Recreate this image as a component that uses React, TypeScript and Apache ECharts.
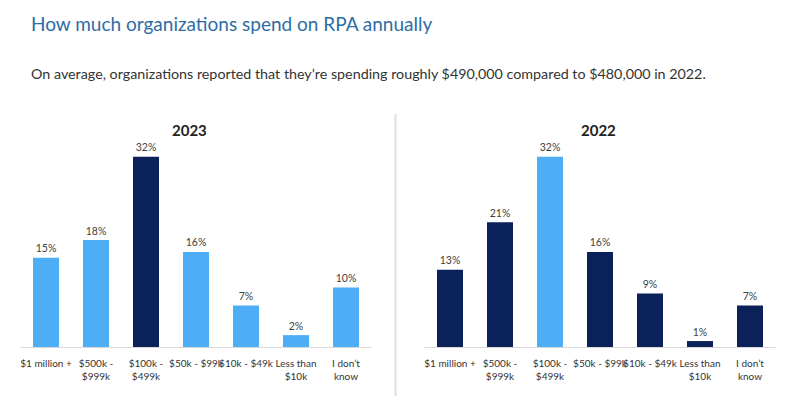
import React, { useEffect, useRef } from "react";
import * as echarts from "echarts";

const categories = [
  "$1 million +",
  "$500k -\n$999k",
  "$100k -\n$499k",
  "$50k - $99k",
  "$10k - $49k",
  "Less than\n$10k",
  "I don\u2019t\nknow",
];
const values2023 = [15, 18, 32, 16, 7, 2, 10];
const values2022 = [13, 21, 32, 16, 9, 1, 7];
const highlightIndex = 2;
const panelTitles = ["2023", "2022"];

const LIGHT = "#4daef6";
const NAVY = "#0a2159";
const FONT = "Lato, 'Noto Sans', sans-serif";

export default function App() {
  const ref = useRef<HTMLDivElement>(null);
  useEffect(() => {
    if (!ref.current) return;
    const chart = echarts.init(ref.current, null, { renderer: "svg" });
    const mkData = (vals: number[], base: string, hi: string) =>
      vals.map((v, i) => ({ value: v, itemStyle: { color: i === highlightIndex ? hi : base } }));
    const xAxisCommon = {
      type: "category" as const,
      data: categories,
      axisTick: { show: false },
      axisLine: { lineStyle: { color: "#d9d9d9", width: 1 } },
      axisLabel: {
        interval: 0,
        color: "#333",
        fontSize: 10,
        fontFamily: FONT,
        lineHeight: 13,
        margin: 9,
      },
    };
    const yAxisCommon = {
      type: "value" as const,
      min: 0,
      max: 35,
      show: false,
      splitLine: { show: false },
    };
    const labelCommon = {
      show: true,
      position: "top" as const,
      distance: 4,
      formatter: "{c}%",
      color: "#404040",
      fontSize: 10.5,
      fontFamily: FONT,
    };
    chart.setOption({
      animation: false,
      title: [
        {
          text: "How much organizations spend on RPA annually",
          left: 26,
          top: 9,
          textStyle: { color: "#2e6da6", fontSize: 19, fontWeight: "normal", fontFamily: FONT },
        },
        {
          text: "On average, organizations reported that they\u2019re spending roughly $490,000 compared to $480,000 in 2022.",
          left: 26,
          top: 61,
          textStyle: { color: "#333", fontSize: 14.3, fontWeight: "normal", fontFamily: FONT },
        },
        {
          text: panelTitles[0],
          left: 167,
          top: 117,
          textStyle: { color: "#222", fontSize: 15, fontWeight: "bold", fontFamily: FONT },
        },
        {
          text: panelTitles[1],
          left: 576,
          top: 117,
          textStyle: { color: "#222", fontSize: 15, fontWeight: "bold", fontFamily: FONT },
        },
      ],
      grid: [
        { left: 21, width: 350, top: 139, height: 208 },
        { left: 425, width: 350, top: 139, height: 208 },
      ],
      xAxis: [
        { ...xAxisCommon, gridIndex: 0 },
        { ...xAxisCommon, gridIndex: 1 },
      ],
      yAxis: [
        { ...yAxisCommon, gridIndex: 0 },
        { ...yAxisCommon, gridIndex: 1 },
      ],
      series: [
        {
          type: "bar",
          xAxisIndex: 0,
          yAxisIndex: 0,
          barWidth: 26,
          data: mkData(values2023, LIGHT, NAVY),
          label: labelCommon,
        },
        {
          type: "bar",
          xAxisIndex: 1,
          yAxisIndex: 1,
          barWidth: 26,
          data: mkData(values2022, NAVY, LIGHT),
          label: labelCommon,
        },
      ],
      graphic: [
        {
          type: "line",
          shape: { x1: 395.5, y1: 114, x2: 395.5, y2: 396 },
          style: { stroke: "#e0e0e0", lineWidth: 2 },
        },
      ],
    });
    return () => chart.dispose();
  }, []);
  return <div ref={ref} style={{ width: 810, height: 399, position: "absolute", left: 0, top: 0 }} />;
}
